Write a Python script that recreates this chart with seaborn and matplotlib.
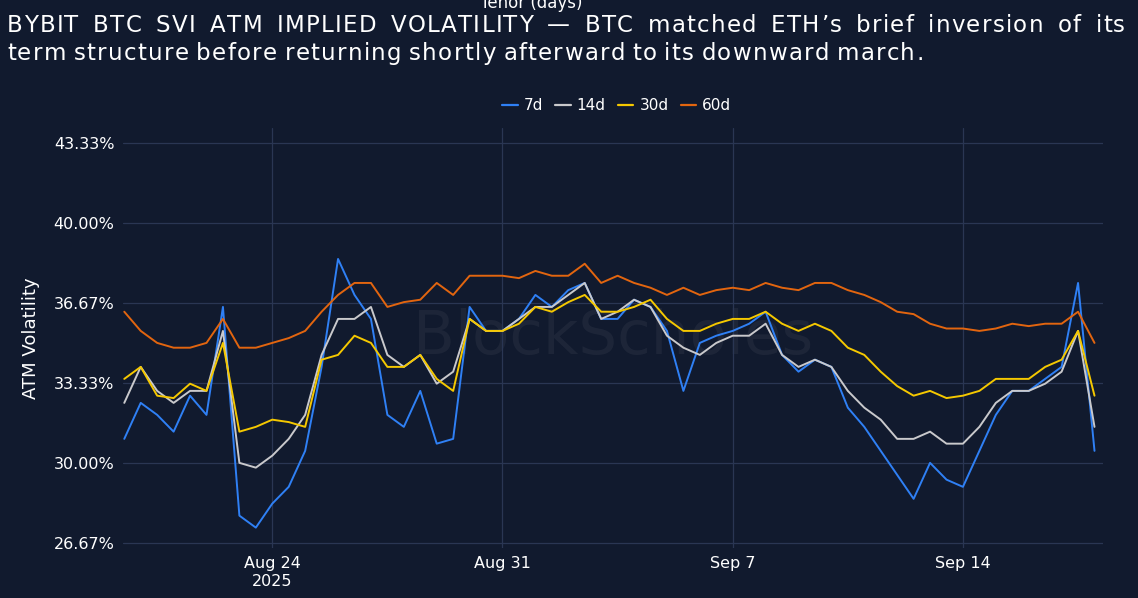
import pandas as pd
import numpy as np
import matplotlib.pyplot as plt
import matplotlib.dates as mdates
import matplotlib.ticker as mticker
import seaborn as sns

# data, 12h samples from 2025-08-19 12:00
times = pd.date_range("2025-08-19 12:00", periods=60, freq="12h")
vol_7d = [31.0, 32.5, 32.0, 31.3, 32.8, 32.0, 36.5, 27.8, 27.3, 28.3,
          29.0, 30.5, 34.0, 38.5, 37.0, 36.0, 32.0, 31.5, 33.0, 30.8,
          31.0, 36.5, 35.5, 35.5, 36.0, 37.0, 36.5, 37.2, 37.5, 36.0,
          36.0, 36.8, 36.5, 35.5, 33.0, 35.0, 35.3, 35.5, 35.8, 36.3,
          34.5, 33.8, 34.3, 34.0, 32.3, 31.5, 30.5, 29.5, 28.5, 30.0,
          29.3, 29.0, 30.5, 32.0, 33.0, 33.0, 33.5, 34.0, 37.5, 30.5]
vol_14d = [32.5, 34.0, 33.0, 32.5, 33.0, 33.0, 35.5, 30.0, 29.8, 30.3,
           31.0, 32.0, 34.5, 36.0, 36.0, 36.5, 34.5, 34.0, 34.5, 33.3,
           33.8, 36.0, 35.5, 35.5, 36.0, 36.5, 36.5, 37.0, 37.5, 36.0,
           36.3, 36.8, 36.5, 35.3, 34.8, 34.5, 35.0, 35.3, 35.3, 35.8,
           34.5, 34.0, 34.3, 34.0, 33.0, 32.3, 31.8, 31.0, 31.0, 31.3,
           30.8, 30.8, 31.5, 32.5, 33.0, 33.0, 33.3, 33.8, 35.5, 31.5]
vol_30d = [33.5, 34.0, 32.8, 32.7, 33.3, 33.0, 35.0, 31.3, 31.5, 31.8,
           31.7, 31.5, 34.3, 34.5, 35.3, 35.0, 34.0, 34.0, 34.5, 33.5,
           33.0, 36.0, 35.5, 35.5, 35.8, 36.5, 36.3, 36.7, 37.0, 36.3,
           36.3, 36.5, 36.8, 36.0, 35.5, 35.5, 35.8, 36.0, 36.0, 36.3,
           35.8, 35.5, 35.8, 35.5, 34.8, 34.5, 33.8, 33.2, 32.8, 33.0,
           32.7, 32.8, 33.0, 33.5, 33.5, 33.5, 34.0, 34.3, 35.5, 32.8]
vol_60d = [36.3, 35.5, 35.0, 34.8, 34.8, 35.0, 36.0, 34.8, 34.8, 35.0,
           35.2, 35.5, 36.3, 37.0, 37.5, 37.5, 36.5, 36.7, 36.8, 37.5,
           37.0, 37.8, 37.8, 37.8, 37.7, 38.0, 37.8, 37.8, 38.3, 37.5,
           37.8, 37.5, 37.3, 37.0, 37.3, 37.0, 37.2, 37.3, 37.2, 37.5,
           37.3, 37.2, 37.5, 37.5, 37.2, 37.0, 36.7, 36.3, 36.2, 35.8,
           35.6, 35.6, 35.5, 35.6, 35.8, 35.7, 35.8, 35.8, 36.3, 35.0]
tenors = ["7d", "14d", "30d", "60d"]
palette = {"7d": "#2f80f5", "14d": "#c9c9cc", "30d": "#f5c800", "60d": "#e2650f"}
yticks = [26.667, 30.0, 33.333, 36.667, 40.0, 43.333]
title_lines = ["BYBIT BTC SVI ATM IMPLIED VOLATILITY \u2014 BTC matched ETH\u2019s brief inversion of its",
               "term structure before returning shortly afterward to its downward march."]

df = pd.concat([
    pd.DataFrame({"time": times, "vol": v, "tenor": t})
    for t, v in zip(tenors, [vol_7d, vol_14d, vol_30d, vol_60d])
])

bg = "#111a2e"
sns.set_theme(style="dark")
fig = plt.figure(figsize=(11.38, 5.98), dpi=100, facecolor=bg)
ax = fig.add_axes([0.108, 0.084, 0.861, 0.702], facecolor=bg)

sns.lineplot(data=df, x="time", y="vol", hue="tenor", palette=palette,
             hue_order=tenors, linewidth=1.4, ax=ax, legend=False)

ax.set_ylim(26.46, 43.96)
ax.set_xlim(pd.Timestamp("2025-08-19 11:00"), pd.Timestamp("2025-09-18 06:00"))
ax.set_yticks(yticks)
ax.yaxis.set_major_formatter(mticker.FuncFormatter(lambda v, p: f"{v:.2f}%"))
ax.set_xticks(pd.to_datetime(["2025-08-24", "2025-08-31", "2025-09-07", "2025-09-14"]))
ax.set_xticklabels(["Aug 24\n2025", "Aug 31", "Sep 7", "Sep 14"])
ax.grid(True, color="#2a3653", linewidth=0.9)
for s in ax.spines.values():
    s.set_visible(False)
ax.tick_params(colors="white", labelsize=11.5, length=0, pad=6)
ax.set_xlabel("")
ax.set_ylabel("ATM Volatility", color="white", fontsize=13, labelpad=10)

ax.text(0.5, 0.5, "BlockScholes", transform=ax.transAxes, fontsize=44,
        color="white", alpha=0.05, ha="center", va="center", zorder=0)

# legend
handles = [plt.Line2D([], [], color=palette[t], lw=1.6) for t in tenors]
fig.legend(handles, tenors, loc="center", bbox_to_anchor=(0.542, 0.823), ncol=4,
           frameon=False, labelcolor="white", fontsize=11, handlelength=1.0,
           handletextpad=0.4, columnspacing=0.8)

fig.text(0.467, 0.995, "Tenor (days)", color="white", fontsize=12, ha="center", va="center")

# title with letter spacing, first line justified
renderer = fig.canvas.get_renderer()
W = 1138.0
def draw_spaced(line, y, tracking, target=None):
    widths = []
    for ch in line:
        t = fig.text(0, 0, ch if ch != " " else "i", fontsize=16.5)
        widths.append(t.get_window_extent(renderer).width)
        t.remove()
    widths = [w if ch != " " else 5.0 for w, ch in zip(widths, line)]
    total = sum(widths) + tracking * (len(line) - 1)
    extra = 0.0
    if target is not None:
        extra = (target - total) / max(line.count(" "), 1)
    x = 7.0
    for ch, w in zip(line, widths):
        if ch != " ":
            fig.text(x / W, y, ch, color="white", fontsize=16.5, ha="left", va="center")
        x += w + tracking + (extra if ch == " " else 0)

draw_spaced(title_lines[0], 0.957, 1.3, target=1118)
draw_spaced(title_lines[1], 0.910, 1.3)

fig.savefig("out.png", dpi=100, facecolor=bg)
